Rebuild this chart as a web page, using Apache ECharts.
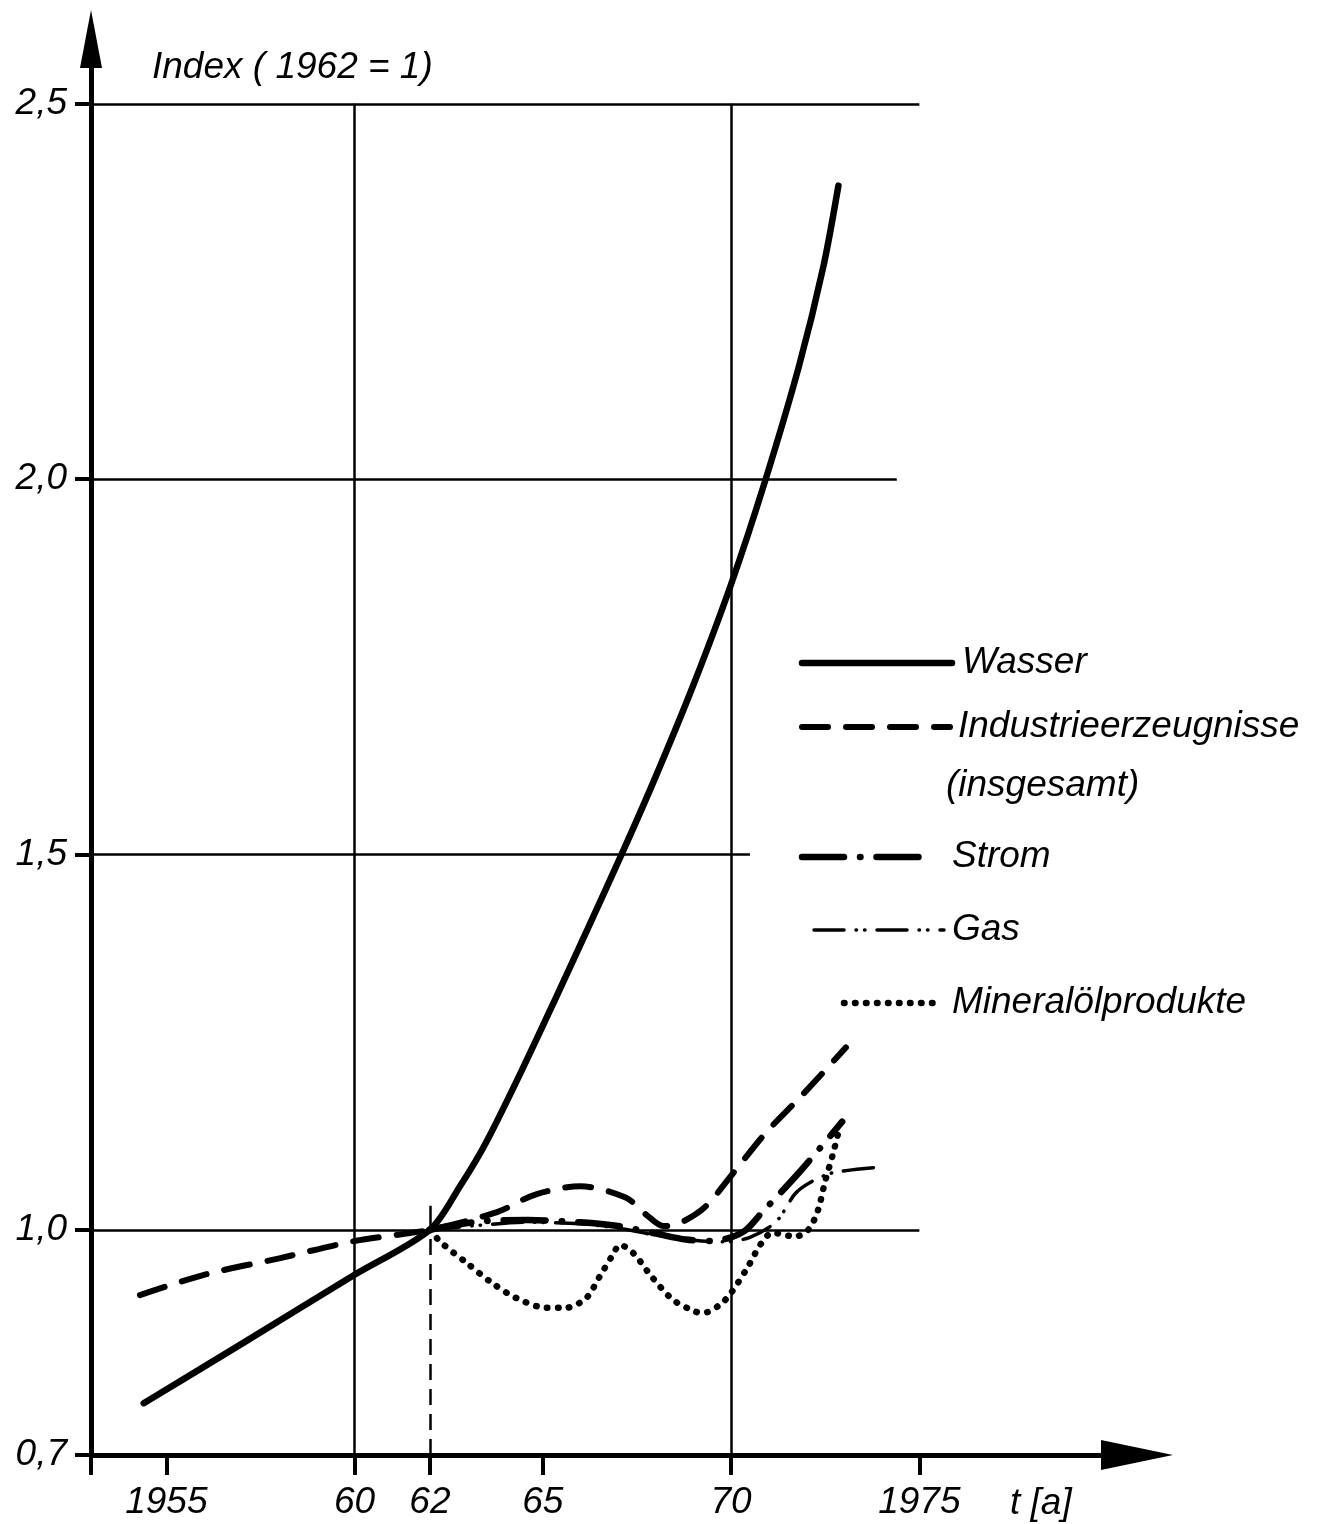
<!DOCTYPE html>
<html lang="de">
<head>
<meta charset="utf-8">
<title>Index (1962 = 1)</title>
<script src="https://cdn.jsdelivr.net/npm/echarts@6/dist/echarts.min.js"></script>
<style>
  html, body { margin: 0; padding: 0; background: #fff; }
  #chart { width: 1339px; height: 1524px; }
</style>
</head>
<body>
<div id="chart"></div>
<script>
// Verlauf der Indizes, [Jahr, Index] mit 1962 = 1
const wasser = [
  [1954.4, 0.769], [1957, 0.848], [1960, 0.94], [1962, 1.0], [1962.8, 1.058],
  [1963.5, 1.117], [1964.4, 1.208], [1965.3, 1.304], [1966.2, 1.402], [1967.1, 1.501],
  [1968, 1.604], [1969, 1.726], [1970, 1.86], [1970.9, 1.997], [1971.8, 2.15],
  [1972.45, 2.283], [1972.85, 2.391]
];
const industrie = [
  [1954.3, 0.913], [1956, 0.94], [1958, 0.962], [1960, 0.985], [1962, 1.0],
  [1963.8, 1.024], [1964.8, 1.047], [1966.0, 1.058], [1967.2, 1.043], [1967.75, 1.02],
  [1968.2, 1.005], [1968.6, 1.008], [1969.3, 1.03], [1970.0, 1.072], [1970.9, 1.128],
  [1971.9, 1.18], [1973.05, 1.243]
];
const strom = [
  [1962, 1.0], [1963.3, 1.011], [1964.6, 1.013], [1966, 1.01], [1967, 1.005],
  [1968, 0.995], [1968.8, 0.987], [1969.5, 0.985], [1970, 0.99], [1970.4, 1.0],
  [1970.8, 1.022], [1971.8, 1.076], [1972.95, 1.144]
];
const gas = [
  [1962, 1.0], [1963.3, 1.006], [1964.6, 1.01], [1966, 1.008], [1967, 1.002],
  [1968, 0.993], [1969, 0.986], [1969.8, 0.984], [1970.5, 0.99], [1971.2, 1.011],
  [1971.7, 1.048], [1972.1, 1.063], [1972.7, 1.076], [1973.85, 1.083]
];
const mineraloel = [
  [1962, 1.0], [1962.3, 0.983], [1963, 0.955], [1963.6, 0.931], [1964.3, 0.909],
  [1965.1, 0.896], [1965.6, 0.896], [1966.15, 0.909], [1966.5, 0.937], [1966.85, 0.966],
  [1967.05, 0.98], [1967.4, 0.969], [1967.9, 0.937], [1968.45, 0.907], [1969.0, 0.892],
  [1969.25, 0.889], [1969.7, 0.9], [1970.0, 0.916], [1970.45, 0.951], [1970.8, 0.982],
  [1971.1, 0.996], [1971.7, 0.991], [1972.05, 1.0], [1972.3, 1.025], [1972.5, 1.065],
  [1972.7, 1.1], [1972.85, 1.13]
];

const seriesNames = ['Wasser', 'Industrieerzeugnisse', 'Strom', 'Gas', 'Mineralölprodukte'];
const legendSubline = '(insgesamt)';

// Achsbeschriftung
const xTickValues = [1955, 1960, 1962, 1965, 1970, 1975];
const xTickLabels = ['1955', '60', '62', '65', '70', '1975'];
const yTickValues = [0.7, 1.0, 1.5, 2.0, 2.5];
const yTickLabels = ['0,7', '1,0', '1,5', '2,0', '2,5'];
const yAxisTitle = 'Index ( 1962 = 1)';
const xAxisTitle = 't [a]';

// Achsbereiche
const xMin = 1953, xMax = 1980.78;
const yMin = 0.7, yMax = 2.5863;

// Hilfslinien im Diagramm (in Achseneinheiten)
const gridSegments = [
  { from: [1953, 2.5], to: [1975, 2.5] },
  { from: [1953, 2.0], to: [1974.4, 2.0] },
  { from: [1953, 1.5], to: [1970.5, 1.5] },
  { from: [1953, 1.0], to: [1975, 1.0] },
  { from: [1960, 0.7], to: [1960, 2.5] },
  { from: [1970, 0.7], to: [1970, 2.5] },
  { from: [1962, 1.0], to: [1962, 1.032] }
];
const refSegments = [
  { from: [1962, 0.7], to: [1962, 1.0] }
];

// Schrift: schmale Kursive, falls vorhanden
function fontAvailable(name) {
  const ctx = document.createElement('canvas').getContext('2d');
  const sample = 'Industrie 1955 WMmil';
  return ['monospace', 'serif'].some(function (base) {
    ctx.font = '40px ' + base;
    const w0 = ctx.measureText(sample).width;
    ctx.font = '40px "' + name + '", ' + base;
    return ctx.measureText(sample).width !== w0;
  });
}
const narrow = fontAvailable('Liberation Sans Narrow');
const TICK_FONT = narrow ? '"Liberation Sans Narrow", "Liberation Sans", sans-serif' : '"Liberation Sans", sans-serif';
const TICK_SIZE = narrow ? 41 : 37;
const TEXT_FONT = '"Liberation Sans", sans-serif';
const TEXT_SIZE = 37;

// Linienarten
const styles = {
  'Wasser': { width: 6.5, dash: null },
  'Industrieerzeugnisse': { width: 6, dash: [26, 18] },
  'Strom': { width: 6.5, dash: [42, 16, 0.5, 16] },
  'Gas': { width: 3.5, dash: [30, 12, 0.5, 8, 0.5, 12] },
  'Mineralölprodukte': { width: 6.5, dash: [0.5, 10.5] }
};
const seriesData = [wasser, industrie, strom, gas, mineraloel];

function labelFor(values, labels) {
  return function (v) {
    let best = 0;
    values.forEach(function (t, i) {
      if (Math.abs(t - v) < Math.abs(values[best] - v)) best = i;
    });
    return labels[best];
  };
}

function segment(s, style) {
  return [
    { coord: s.from, lineStyle: style },
    { coord: s.to }
  ];
}

const gridLineStyle = { color: '#000', width: 2.5, type: 'solid' };
const refLineStyle = { color: '#000', width: 2.5, type: [16, 9] };

const series = seriesNames.map(function (name, i) {
  const st = styles[name];
  const s = {
    name: name,
    type: 'line',
    data: seriesData[i],
    showSymbol: false,
    symbol: 'none',
    smooth: 0.3,
    animation: false,
    lineStyle: {
      color: '#000',
      width: st.width,
      type: st.dash || 'solid',
      cap: 'round',
      join: 'round'
    },
    z: 3
  };
  if (i === 0) {
    s.markLine = {
      silent: true,
      animation: false,
      symbol: ['none', 'none'],
      label: { show: false },
      emphasis: { disabled: true },
      data: gridSegments.map(function (g) { return segment(g, gridLineStyle); })
        .concat(refSegments.map(function (g) { return segment(g, refLineStyle); }))
    };
  }
  return s;
});

// Legende
const legendLayout = [
  { y: 663, x1: 802, x2: 952, textX: 962 },
  { y: 727, x1: 802, x2: 950, textX: 958, sub: { x: 946, y: 786 } },
  { y: 857, x1: 802, x2: 929, textX: 952 },
  { y: 930, x1: 814, x2: 944, textX: 952 },
  { y: 1003, x1: 844, x2: 942, textX: 952 }
];
const textFont = 'italic ' + TEXT_SIZE + 'px ' + TEXT_FONT;
const graphics = [];
seriesNames.forEach(function (name, i) {
  const L = legendLayout[i];
  const st = styles[name];
  graphics.push({
    type: 'line',
    silent: true,
    shape: { x1: L.x1, y1: L.y, x2: L.x2, y2: L.y },
    style: { stroke: '#000', lineWidth: st.width, lineDash: st.dash || null, lineCap: 'round' }
  });
  graphics.push({
    type: 'text',
    silent: true,
    style: { x: L.textX, y: L.y, text: name, font: textFont, fill: '#000', align: 'left', verticalAlign: 'middle' }
  });
  if (L.sub) {
    graphics.push({
      type: 'text',
      silent: true,
      style: { x: L.sub.x, y: L.sub.y, text: legendSubline, font: textFont, fill: '#000', align: 'left', verticalAlign: 'middle' }
    });
  }
});

const chart = echarts.init(document.getElementById('chart'), null, { renderer: 'canvas' });
chart.setOption({
  backgroundColor: '#fff',
  animation: false,
  grid: { left: 91, right: 202, top: 39, bottom: 69, containLabel: false },
  xAxis: {
    type: 'value',
    min: xMin,
    max: xMax,
    name: xAxisTitle,
    nameLocation: 'end',
    nameGap: -127,
    nameMoveOverlap: false,
    nameTextStyle: {
      fontFamily: TEXT_FONT, fontStyle: 'italic', fontSize: TEXT_SIZE, color: '#000',
      align: 'left', verticalAlign: 'top', lineHeight: TEXT_SIZE, padding: [30, 0, 0, 0]
    },
    axisLine: {
      onZero: false,
      lineStyle: { color: '#000', width: 5 },
      symbol: ['none', 'triangle'],
      symbolSize: [30, 72]
    },
    axisTick: {
      show: true,
      customValues: [xMin].concat(xTickValues),
      length: 20,
      lineStyle: { color: '#000', width: 4 }
    },
    axisLabel: {
      customValues: xTickValues,
      formatter: labelFor(xTickValues, xTickLabels),
      margin: 48 - TICK_SIZE / 2,
      fontFamily: TICK_FONT, fontStyle: 'italic', fontSize: TICK_SIZE, lineHeight: TICK_SIZE,
      color: '#000'
    },
    splitLine: { show: false }
  },
  yAxis: {
    type: 'value',
    min: yMin,
    max: yMax,
    name: yAxisTitle,
    nameLocation: 'end',
    nameGap: -29,
    nameMoveOverlap: false,
    nameTextStyle: {
      fontFamily: TEXT_FONT, fontStyle: 'italic', fontSize: TEXT_SIZE, color: '#000',
      align: 'left', verticalAlign: 'middle', padding: [0, 0, 0, 61]
    },
    axisLine: {
      onZero: false,
      lineStyle: { color: '#000', width: 5 },
      symbol: ['none', 'triangle'],
      symbolSize: [22, 58]
    },
    axisTick: {
      show: true,
      customValues: yTickValues,
      length: 16,
      lineStyle: { color: '#000', width: 4 }
    },
    axisLabel: {
      customValues: yTickValues,
      formatter: labelFor(yTickValues, yTickLabels),
      margin: 24,
      fontFamily: TICK_FONT, fontStyle: 'italic', fontSize: TICK_SIZE,
      color: '#000'
    },
    splitLine: { show: false }
  },
  series: series,
  graphic: graphics
});
</script>
</body>
</html>
